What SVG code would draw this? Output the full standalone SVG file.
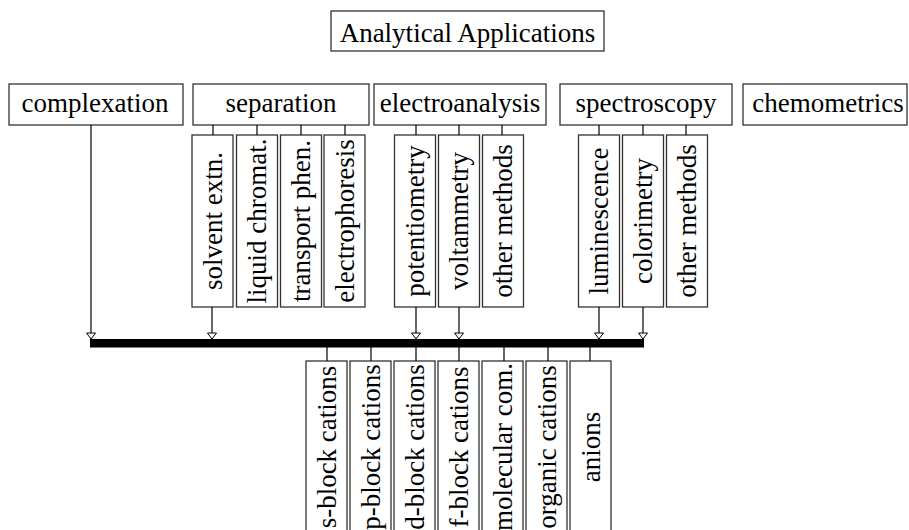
<svg xmlns="http://www.w3.org/2000/svg" width="909" height="530" viewBox="0 0 909 530">
<style>
  .box { fill: #fff; stroke: #333; stroke-width: 1.3; }
  .t { font-family: "Liberation Serif", "Times New Roman", serif; font-size: 27px; fill: #000; text-anchor: middle; }
  .ln { stroke: #000; stroke-width: 1.2; fill: none; }
  .ar { stroke: #000; stroke-width: 1.2; fill: none; marker-end: url(#tri); }
</style>
<defs>
  <marker id="tri" markerUnits="userSpaceOnUse" markerWidth="7" markerHeight="11" viewBox="0 -5.5 7 11" refX="6.5" refY="0" orient="auto" overflow="visible">
    <path d="M0.5,-4.5 L6.5,0 L0.5,4.5 Z" fill="#fff" stroke="#000" stroke-width="1"/>
  </marker>
</defs>
<rect width="909" height="530" fill="#fff"/>

<g id="title">
  <rect class="box" x="331" y="11" width="273" height="40"/>
  <text class="t" x="467.5" y="42">Analytical Applications</text>
</g>

<g id="complexation">
  <rect class="box" x="9" y="84" width="174" height="41"/>
  <text class="t" x="95" y="112">complexation</text>
</g>
<g id="separation">
  <rect class="box" x="193" y="84" width="176" height="41"/>
  <text class="t" x="281" y="112">separation</text>
</g>
<g id="electroanalysis">
  <rect class="box" x="374" y="84" width="172" height="41"/>
  <text class="t" x="460" y="112">electroanalysis</text>
</g>
<g id="spectroscopy">
  <rect class="box" x="560" y="84" width="172" height="41"/>
  <text class="t" x="646" y="112">spectroscopy</text>
</g>
<g id="chemometrics">
  <rect class="box" x="743" y="84" width="164" height="41"/>
  <text class="t" x="828" y="112">chemometrics</text>
</g>

<g id="solvent-extn">
  <rect class="box" x="192" y="135" width="41" height="172"/>
  <text class="t" transform="translate(221.5,221) rotate(-90)">solvent extn.</text>
</g>
<g id="liquid-chromat">
  <rect class="box" x="236.5" y="135" width="41" height="172"/>
  <text class="t" transform="translate(266,221) rotate(-90)">liquid chromat.</text>
</g>
<g id="transport-phen">
  <rect class="box" x="280.5" y="135" width="41" height="172"/>
  <text class="t" transform="translate(310,221) rotate(-90)">transport phen.</text>
</g>
<g id="electrophoresis">
  <rect class="box" x="324" y="135" width="41" height="172"/>
  <text class="t" transform="translate(353.5,221) rotate(-90)">electrophoresis</text>
</g>

<g id="potentiometry">
  <rect class="box" x="394.5" y="135" width="41" height="172"/>
  <text class="t" transform="translate(424,221) rotate(-90)">potentiometry</text>
</g>
<g id="voltammetry">
  <rect class="box" x="438.5" y="135" width="41" height="172"/>
  <text class="t" transform="translate(468,221) rotate(-90)">voltammetry</text>
</g>
<g id="other-methods-1">
  <rect class="box" x="482.5" y="135" width="41" height="172"/>
  <text class="t" transform="translate(512,221) rotate(-90)">other methods</text>
</g>

<g id="luminescence">
  <rect class="box" x="578.5" y="135" width="41" height="172"/>
  <text class="t" transform="translate(608,221) rotate(-90)">luminescence</text>
</g>
<g id="colorimetry">
  <rect class="box" x="622.5" y="135" width="41" height="172"/>
  <text class="t" transform="translate(652,221) rotate(-90)">colorimetry</text>
</g>
<g id="other-methods-2">
  <rect class="box" x="666.5" y="135" width="41" height="172"/>
  <text class="t" transform="translate(696,221) rotate(-90)">other methods</text>
</g>

<g id="s-block">
  <rect class="box" x="306" y="361" width="41" height="180"/>
  <text class="t" transform="translate(335.5,447) rotate(-90)">s-block cations</text>
</g>
<g id="p-block">
  <rect class="box" x="350" y="361" width="41" height="180"/>
  <text class="t" transform="translate(379.5,447) rotate(-90)">p-block cations</text>
</g>
<g id="d-block">
  <rect class="box" x="394" y="361" width="41" height="180"/>
  <text class="t" transform="translate(423.5,447) rotate(-90)">d-block cations</text>
</g>
<g id="f-block">
  <rect class="box" x="438" y="361" width="41" height="180"/>
  <text class="t" transform="translate(467.5,447) rotate(-90)">f-block cations</text>
</g>
<g id="molecular">
  <rect class="box" x="482" y="361" width="41" height="180"/>
  <text class="t" transform="translate(511.5,447) rotate(-90)">molecular com.</text>
</g>
<g id="organic">
  <rect class="box" x="526" y="361" width="41" height="180"/>
  <text class="t" transform="translate(555.5,447) rotate(-90)">organic cations</text>
</g>
<g id="anions">
  <rect class="box" x="570" y="361" width="41" height="180"/>
  <text class="t" transform="translate(599.5,447) rotate(-90)">anions</text>
</g>

<g id="connectors">
  <rect x="90" y="339" width="554" height="8.5" fill="#000"/>
  <line class="ln" x1="213" y1="125" x2="213" y2="135"/>
  <line class="ln" x1="257" y1="125" x2="257" y2="135"/>
  <line class="ln" x1="301" y1="125" x2="301" y2="135"/>
  <line class="ln" x1="345" y1="125" x2="345" y2="135"/>
  <line class="ln" x1="416" y1="125" x2="416" y2="135"/>
  <line class="ln" x1="459" y1="125" x2="459" y2="135"/>
  <line class="ln" x1="502" y1="125" x2="502" y2="135"/>
  <line class="ln" x1="599" y1="125" x2="599" y2="135"/>
  <line class="ln" x1="643" y1="125" x2="643" y2="135"/>
  <line class="ln" x1="686" y1="125" x2="686" y2="135"/>
  <line class="ar" x1="91" y1="125" x2="91" y2="339"/>
  <line class="ar" x1="212" y1="307" x2="212" y2="339"/>
  <line class="ar" x1="416" y1="307" x2="416" y2="339"/>
  <line class="ar" x1="459" y1="307" x2="459" y2="339"/>
  <line class="ar" x1="599" y1="307" x2="599" y2="339"/>
  <line class="ar" x1="643" y1="307" x2="643" y2="339"/>
  <line class="ln" x1="327" y1="347" x2="327" y2="361"/>
  <line class="ln" x1="371" y1="347" x2="371" y2="361"/>
  <line class="ln" x1="416" y1="347" x2="416" y2="361"/>
  <line class="ln" x1="459" y1="347" x2="459" y2="361"/>
  <line class="ln" x1="504" y1="347" x2="504" y2="361"/>
  <line class="ln" x1="548" y1="347" x2="548" y2="361"/>
  <line class="ln" x1="590" y1="347" x2="590" y2="361"/>
</g>
</svg>
